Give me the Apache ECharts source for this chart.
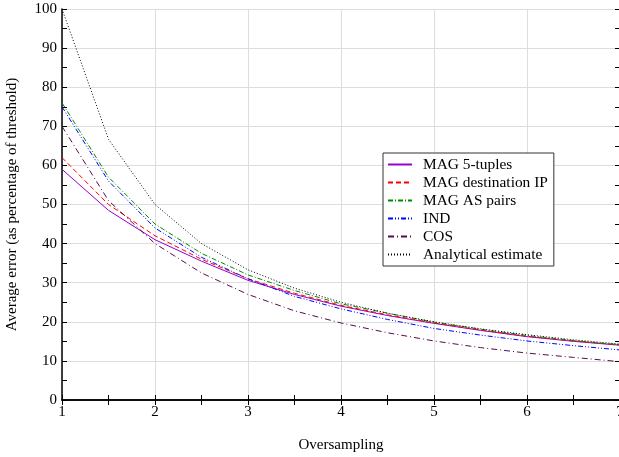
<!DOCTYPE html>
<html>
<head>
<meta charset="utf-8">
<script src="https://cdn.jsdelivr.net/npm/echarts@6/dist/echarts.min.js"></script>
<style>
  html, body { margin: 0; padding: 0; background: #fff; }
</style>
</head>
<body>
<div id="chart" style="width:619px;height:457px;"></div>
<script>
// oversampling values (x)
const oversampling = [1, 1.5, 2, 2.5, 3, 3.5, 4, 4.5, 5, 5.5, 6, 6.5, 7]
// average error per series
const mag5tuples = [59, 48.5, 41, 35.5, 30.6, 27, 24, 21.6, 19.6, 17.8, 16.2, 15, 14]
const magDestIP = [62, 50, 42, 36, 31, 27.3, 24.2, 21.8, 19.7, 17.9, 16.3, 15.1, 14.1]
const magASpairs = [76, 57, 45, 37.5, 32, 28, 24.6, 22.2, 19.9, 18.1, 16.5, 15.2, 14.1]
const ind = [75, 56, 44, 36.5, 31, 26.5, 23.3, 20.6, 18.3, 16.6, 15.1, 13.9, 12.8]
const cos = [70, 51, 40, 32.5, 27, 22.8, 19.7, 17.2, 15.1, 13.4, 12, 10.9, 9.8]
const analytical = [100, 66.7, 50, 40, 33.3, 28.6, 25, 22.2, 20, 18.2, 16.7, 15.4, 14.3]

const font = 'Liberation Serif'

function pairs(ys) {
  return oversampling.map((x, i) => [x, ys[i]])
}

function mkSeries(name, ys, color, type) {
  return {
    name: name,
    type: 'line',
    data: pairs(ys),
    symbol: 'none',
    smooth: false,
    lineStyle: { color: color, width: 1, type: type },
    itemStyle: { color: color },
  }
}

const tick = { show: true, inside: true, length: 5, lineStyle: { color: '#000' } }
const minor = { show: true, splitNumber: 2, length: 5, lineStyle: { color: '#000' } }
const axLine = { show: true, lineStyle: { color: '#000', width: 1.5 } }

const chart = echarts.init(document.getElementById('chart'))
const option = {
  animation: false,
  textStyle: { fontFamily: font },
  grid: { left: 62, right: -1, top: 9, bottom: 57, outerBoundsMode: 'none', containLabel: false },
  legend: {
    orient: 'vertical',
    left: 383,
    top: 153,
    backgroundColor: '#fff',
    borderColor: '#333',
    borderWidth: 1,
    borderRadius: 0,
    padding: [4, 6, 4, 4],
    itemGap: 3,
    itemWidth: 24,
    itemHeight: 17,
    itemStyle: { opacity: 0 },
    textStyle: { fontFamily: font, fontSize: 15.4, color: '#000', padding: [0, 0, 0, 6] },
    data: ['MAG 5-tuples', 'MAG destination IP', 'MAG AS pairs', 'IND', 'COS', 'Analytical estimate'],
  },
  xAxis: [
    {
      type: 'value',
      min: 1,
      max: 7,
      interval: 1,
      name: 'Oversampling',
      nameLocation: 'middle',
      nameGap: 38,
      nameTextStyle: { fontFamily: font, fontSize: 15, color: '#000' },
      axisLine: axLine,
      axisTick: tick,
      minorTick: minor,
      axisLabel: { fontFamily: font, fontSize: 15, color: '#000', margin: 5 },
      splitLine: { show: true, lineStyle: { color: '#ddd' } },
    },
    {
      type: 'value',
      position: 'top',
      min: 1,
      max: 7,
      interval: 1,
      axisLine: axLine,
      axisTick: tick,
      minorTick: minor,
      axisLabel: { show: false },
      splitLine: { show: false },
    },
  ],
  yAxis: [
    {
      type: 'value',
      min: 0,
      max: 100,
      interval: 10,
      name: 'Average error (as percentage of threshold)',
      nameLocation: 'middle',
      nameGap: 42,
      nameTextStyle: { fontFamily: font, fontSize: 15, color: '#000' },
      axisLine: axLine,
      axisTick: tick,
      minorTick: minor,
      axisLabel: { fontFamily: font, fontSize: 15, color: '#000', margin: 5 },
      splitLine: { show: true, lineStyle: { color: '#ddd' } },
    },
    {
      type: 'value',
      position: 'right',
      min: 0,
      max: 100,
      interval: 10,
      axisLine: axLine,
      axisTick: tick,
      minorTick: minor,
      axisLabel: { show: false },
      splitLine: { show: false },
    },
  ],
  series: [
    mkSeries('MAG 5-tuples', mag5tuples, '#9400d3', 'solid'),
    mkSeries('MAG destination IP', magDestIP, '#ff0000', [5, 3]),
    mkSeries('MAG AS pairs', magASpairs, '#008a00', [5, 2, 1, 2]),
    mkSeries('IND', ind, '#0000ff', [5, 2, 1, 2, 1, 2]),
    mkSeries('COS', cos, '#5a0a4a', [6, 3, 1, 3]),
    mkSeries('Analytical estimate', analytical, '#000', [1, 2]),
  ],
}
chart.setOption(option)
</script>
</body>
</html>
